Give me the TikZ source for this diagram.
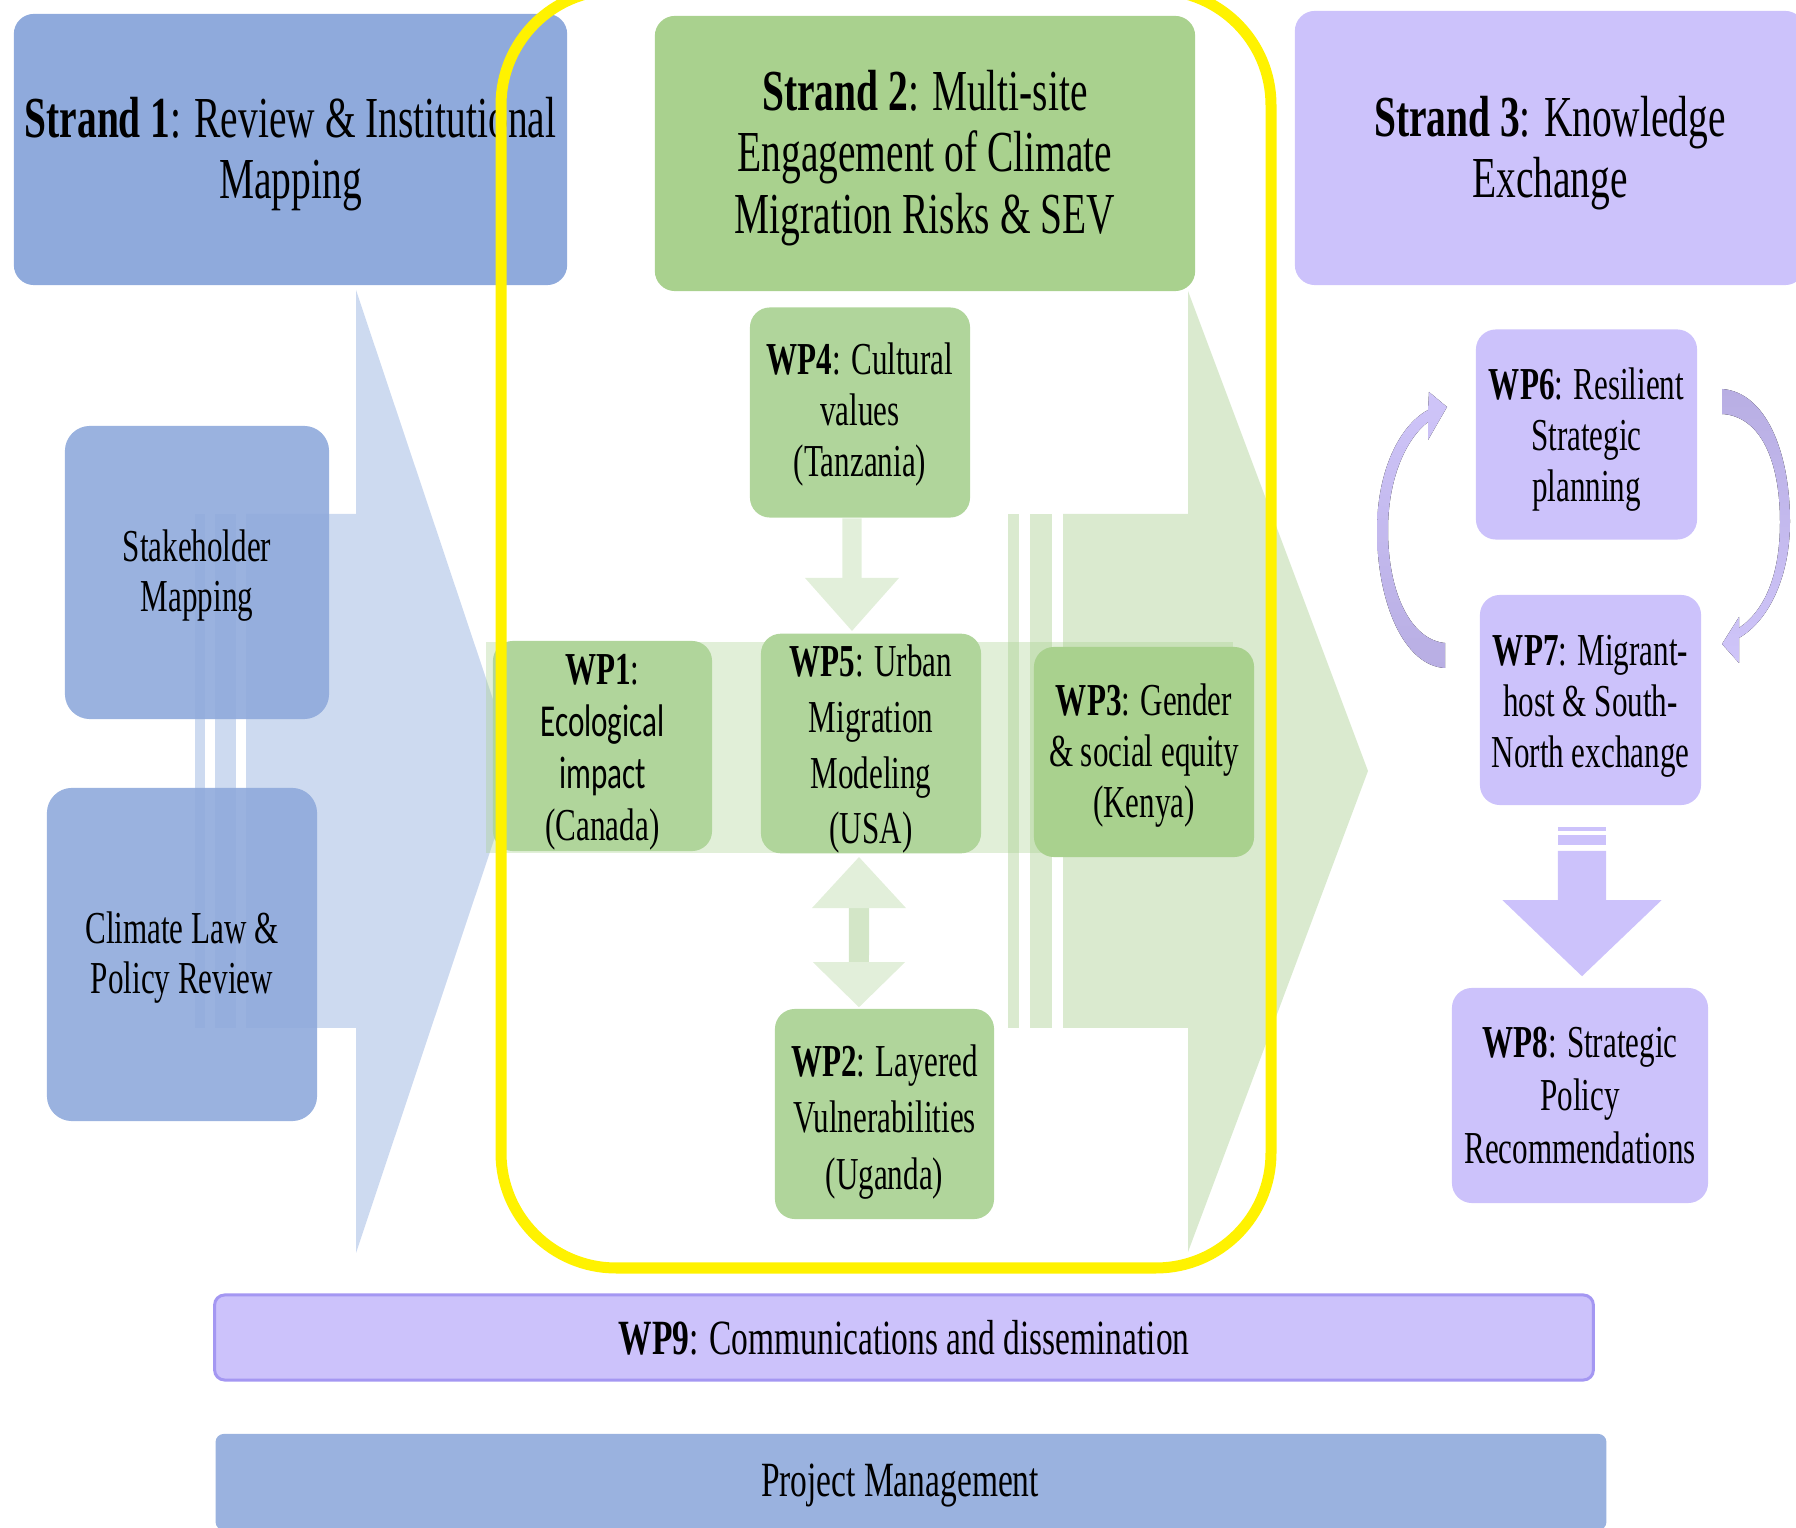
\documentclass[tikz,border=0pt]{standalone}
\usepackage{fontspec}
\setmainfont{Liberation Serif}[FakeStretch=0.68]
\newfontfamily\calfont{Carlito}[FakeStretch=0.68]
\usetikzlibrary{arrows.meta}

\definecolor{strandblue}{HTML}{8FAADC}
\definecolor{chevblue}{HTML}{CDDAF0}
\definecolor{strandgreen}{HTML}{A9D18E}
\definecolor{wpgreen}{HTML}{B0D59B}
\definecolor{chevgreen}{HTML}{DAEACF}
\definecolor{palegreen}{HTML}{E2EFDA}
\definecolor{midgreen}{HTML}{D3E6C7}
\definecolor{strandpurple}{HTML}{CCC2FB}
\definecolor{linepurple}{HTML}{A497F2}
\definecolor{arcdark}{HTML}{B8AEE3}
\definecolor{arclight}{HTML}{CFC5F9}
\definecolor{pmblue}{HTML}{9AB2DF}

% invisible strut that pushes a text block down a little
\newcommand\padtop[1]{\rule{0pt}{#1}}

\tikzset{
  strandbox/.style={rounded corners=0.2cm, inner sep=0pt, align=center,
    font=\fontsize{16.5}{17.5}\selectfont},
  wpbox/.style={rounded corners=0.2cm, inner sep=0pt, align=center,
    minimum width=2.2cm, minimum height=2.1cm,
    font=\fontsize{13}{14.5}\selectfont},
  greenwp/.style={wpbox, fill=wpgreen},
  purplewp/.style={wpbox, fill=strandpurple},
  reviewbox/.style={rounded corners=0.25cm, inner sep=0pt, align=center,
    fill=strandblue, fill opacity=0.9, text opacity=1,
    font=\fontsize{13}{14.3}\selectfont},
  barbox/.style={rounded corners=0.1cm, inner sep=0pt,
    font=\fontsize{14}{16}\selectfont},
  softarrow/.style={draw=palegreen, line width=0.19cm,
    -{Triangle[width=0.94cm, length=0.53cm, line width=0pt]}},
  twoway/.style={draw=midgreen, line width=0.2cm,
    {Triangle[width=0.94cm, length=0.51cm, line width=0pt, color=palegreen, fill=palegreen]}-{Triangle[width=0.92cm, length=0.45cm, line width=0pt, color=palegreen, fill=palegreen]}},
  bigarrow/.style={draw=strandpurple, line width=0.48cm,
    -{Triangle[width=1.59cm, length=0.76cm, line width=0pt]}},
  yellowframe/.style={draw=yellow, line width=0.11cm, rounded corners=1.15cm}
}

\begin{document}
\begin{tikzpicture}[x=0.01cm, y=-0.01cm]
    \useasboundingbox (0,0) rectangle (1796,1528);
    \clip (0,0) rectangle (1796,1528);

    % Background chevrons
    \fill[chevblue] (195,514) rectangle (205,1028);
    \fill[chevblue] (215,514) rectangle (236,1028);
    \fill[chevblue] (246,514) -- (356,514) -- (356,290) -- (517,771) -- (356,1253) -- (356,1028) -- (246,1028) -- cycle;
    \fill[chevgreen] (1008,514) rectangle (1019,1028);
    \fill[chevgreen] (1030,514) rectangle (1052,1028);
    \fill[chevgreen] (1063,514) -- (1188,514) -- (1188,291) -- (1368,771) -- (1188,1252) -- (1188,1028) -- (1063,1028) -- cycle;
    \fill[strandgreen, fill opacity=0.35] (486,642) rectangle (1233,853);

    % Define the nodes
    \node[strandbox, fill=strandblue, minimum width=5.53cm, minimum height=2.71cm] (strand1) at (290.5,149.5)
        {\padtop{14pt}\textbf{Strand 1}: Review \& Institutional\\Mapping};
    \node[strandbox, fill=strandgreen, minimum width=5.40cm, minimum height=2.75cm] (strand2) at (925,153.5)
        {\padtop{14pt}\textbf{Strand 2}: Multi-site\\Engagement of Climate\\Migration Risks \& SEV};
    \node[strandbox, fill=strandpurple, minimum width=5.10cm, minimum height=2.74cm] (strand3) at (1550,148)
        {\padtop{14.4pt}\textbf{Strand 3}: Knowledge\\Exchange};

    \node[reviewbox, minimum width=2.64cm, minimum height=2.93cm] (stake) at (197,572.5) {\padtop{10.9pt}Stakeholder\\Mapping};
    \node[reviewbox, minimum width=2.70cm, minimum height=3.33cm] (climate) at (182,954.5) {\padtop{10.9pt}Climate Law \&\\Policy Review};

    \node[greenwp] (wp4) at (860,412.5) {\padtop{10.3pt}\textbf{WP4}: Cultural\\values\\(Tanzania)};
    \node[greenwp, minimum width=2.19cm, font=\fontsize{13}{14.8}\selectfont] (wp1) at (602.5,746)
        {\padtop{12pt}\textbf{WP1}:\\{\calfont Ecological}\\{\calfont impact}\\(Canada)};
    \node[greenwp, font=\fontsize{13}{15.8}\selectfont] (wp5) at (871,743.5) {\padtop{12.3pt}\textbf{WP5}: Urban\\Migration\\Modeling\\(USA)};
    \node[wpbox, fill=strandgreen] (wp3) at (1144,752) {\padtop{11pt}\textbf{WP3}: Gender\\\& social equity\\(Kenya)};
    \node[greenwp, minimum width=2.19cm, font=\fontsize{13}{16}\selectfont] (wp2) at (884.5,1114)
        {\padtop{13.5pt}\textbf{WP2}: Layered\\Vulnerabilities\\(Uganda)};

    \node[purplewp, minimum width=2.21cm] (wp6) at (1586.5,434.5) {\padtop{12pt}\textbf{WP6}: Resilient\\Strategic\\planning};
    \node[purplewp, minimum width=2.21cm] (wp7) at (1590.5,700) {\padtop{12pt}\textbf{WP7}: Migrant-\\host \& South-\\North exchange};
    \node[purplewp, minimum width=2.56cm, minimum height=2.15cm, font=\fontsize{13}{15}\selectfont] (wp8) at (1580,1095.5)
        {\textbf{WP8}: Strategic\\Policy\\Recommendations};

    \node[barbox, fill=strandpurple, draw=linepurple, line width=0.03cm, minimum width=13.78cm, minimum height=0.85cm] (wp9) at (904,1337.5)
        {\textbf{WP9}: Communications and dissemination};
    \node[barbox, fill=pmblue, rounded corners=0.08cm, minimum width=13.90cm, minimum height=0.96cm] (pm) at (911,1482)
        {\padtop{11.3pt}Project Management\hspace*{0.22cm}};

    % Draw the edges
    \draw[softarrow] ([xshift=-0.08cm]wp4.south) -- ([xshift=-0.19cm, yshift=0.02cm]wp5.north);
    \draw[twoway] ([xshift=-0.12cm, yshift=-0.03cm]wp5.south) -- ([xshift=-0.255cm, yshift=0.01cm]wp2.north);

    \fill[strandpurple] (1558,827) rectangle (1606,831);
    \fill[strandpurple] (1558,835) rectangle (1606,845);
    \draw[bigarrow] ([xshift=-0.085cm, yshift=-0.45cm]wp7.south) -- ([xshift=0.02cm, yshift=0.11cm]wp8.north);

    % Cycle between WP6 and WP7
    \fill[top color=arclight, bottom color=arcdark]
        (1445,668) .. controls (1405,666) and (1377,605) .. (1377,530)
        .. controls (1377,470) and (1400,425) .. (1428,410)
        -- (1429,392) -- (1447,407) -- (1428,440) -- (1428,422)
        .. controls (1405,440) and (1388,480) .. (1388,530)
        .. controls (1388,595) and (1412,640) .. (1445,643) -- cycle;
    \fill[top color=arcdark, bottom color=arclight]
        (1722,389) .. controls (1765,392) and (1790,450) .. (1790,522)
        .. controls (1790,575) and (1770,620) .. (1739,638)
        -- (1739,663) -- (1722,644) -- (1739,617) -- (1739,628)
        .. controls (1765,610) and (1780,575) .. (1780,522)
        .. controls (1780,460) and (1760,416) .. (1722,414) -- cycle;

    % Strand 2 frame
    \draw[yellowframe] (501,-10) rectangle (1271,1268);
\end{tikzpicture}
\end{document}
